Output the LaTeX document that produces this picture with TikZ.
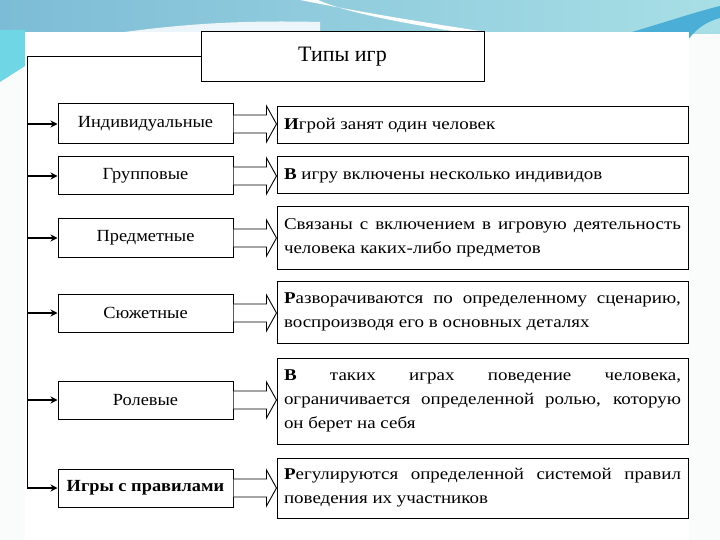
\documentclass[tikz,border=0pt]{standalone}
\usepackage{fontspec}
\setmainfont{Liberation Serif}
\newfontfamily\widefont[FakeStretch=1.15]{Liberation Serif}
\newfontfamily\kindfont[FakeStretch=1.08]{Liberation Serif}
\usetikzlibrary{arrows.meta,calc}
\definecolor{bandL}{HTML}{7DBCD6}
\definecolor{bandR}{HTML}{A8DFE6}
\definecolor{cyanL}{HTML}{6FD6E6}
\definecolor{blueR}{HTML}{4AAED6}
\definecolor{pagebg}{HTML}{FAFBFB}
\tikzset{
  box/.style={draw=black, line width=1pt, fill=white, inner sep=0pt},
  kindbox/.style={box, minimum width=175pt, align=center, font=\kindfont\fontsize{17}{20}\selectfont},
  descbox/.style={box, minimum width=411pt, text width=397pt, inner xsep=7pt, align=justify, font=\widefont\fontsize{16.5}{24}\selectfont},
  spinearrow/.style={line width=1.8pt, -{Stealth[length=7pt,width=7pt]}},
  blockarrow/.style={draw=black, line width=0.9pt, fill=white, line join=miter},
  spineline/.style={line width=1pt}
}
\begin{document}
\begin{tikzpicture}[x=1pt,y=-1pt]
\useasboundingbox (0,0) rectangle (720,540);
% background
\fill[pagebg] (0,0) rectangle (720,540);
\shade[left color=bandL, right color=bandR] (0,0) rectangle (720,34);
\fill[cyanL] (0,30) -- (25,30) -- (25,66) -- (0,82) -- cycle;
\fill[white] (300,0) .. controls (360,12) and (420,22) .. (500,34) -- (470,34) .. controls (410,24) and (350,14) .. (318,0) -- cycle;
\fill[white!85!bandL] (110,34) .. controls (180,24) and (240,20) .. (320,22) -- (320,34) -- cycle;
\fill[blueR] (625,34) .. controls (660,24) and (695,12) .. (720,6) -- (720,18) .. controls (705,22) and (695,30) .. (688,40) -- (688,34) -- cycle;
\fill[white] (25,32) rectangle (689,540);

% title
\node[box, minimum width=283pt, minimum height=50pt, font=\fontsize{22}{24}\selectfont] (title) at (342.5,57) {Типы игр};
\coordinate (spine) at (27,57);
\draw[spineline] (title.west) -- (spine) -- (27,488);

% left boxes
\node[kindbox, minimum height=40pt] (k1) at (145.5,124) {Индивидуальные};
\node[kindbox, minimum height=38pt] (k2) at (145.5,176) {Групповые};
\node[kindbox, minimum height=38pt] (k3) at (145.5,238) {Предметные};
\node[kindbox, minimum height=38pt] (k4) at (145.5,313) {Сюжетные};
\node[kindbox, minimum height=38pt] (k5) at (145.5,400) {Ролевые};
\node[kindbox, minimum height=38pt, font=\kindfont\fontsize{17}{20}\selectfont\bfseries] (k6) at (145.5,488) {Игры с правилами};

% right boxes
\node[descbox, minimum height=37pt] (d1) at (482.5,125.5) {\textbf{И}грой занят один человек};
\node[descbox, minimum height=37pt] (d2) at (482.5,175.5) {\textbf{В} игру включены несколько индивидов};
\node[descbox, minimum height=62pt] (d3) at (482.5,238) {Связаны с включением в игровую деятельность\linebreak человека каких-либо предметов};
\node[descbox, minimum height=62pt] (d4) at (482.5,312) {\textbf{Р}азворачиваются по определенному сценарию,\linebreak воспроизводя его в основных деталях};
\node[descbox, minimum height=86pt] (d5) at (482.5,401) {\textbf{В} таких играх поведение человека,\linebreak ограничивается определенной ролью, которую\linebreak он берет на себя};
\node[descbox, minimum height=60pt] (d6) at (482.5,488) {\textbf{Р}егулируются определенной системой правил\linebreak поведения их участников};

% connectors
\foreach \k in {1,...,6}{
  \draw[spinearrow] (spine |- k\k.west) -- (k\k.west);
  \draw[blockarrow] (k\k.east) ++(0,-9) -- ++(33,0) -- ++(0,-9) -- ($(d\k.west |- k\k.east)$) -- ($(k\k.east)+(33,18)$) -- ++(0,-9) -- ++(-33,0);
}
\end{tikzpicture}
\end{document}
